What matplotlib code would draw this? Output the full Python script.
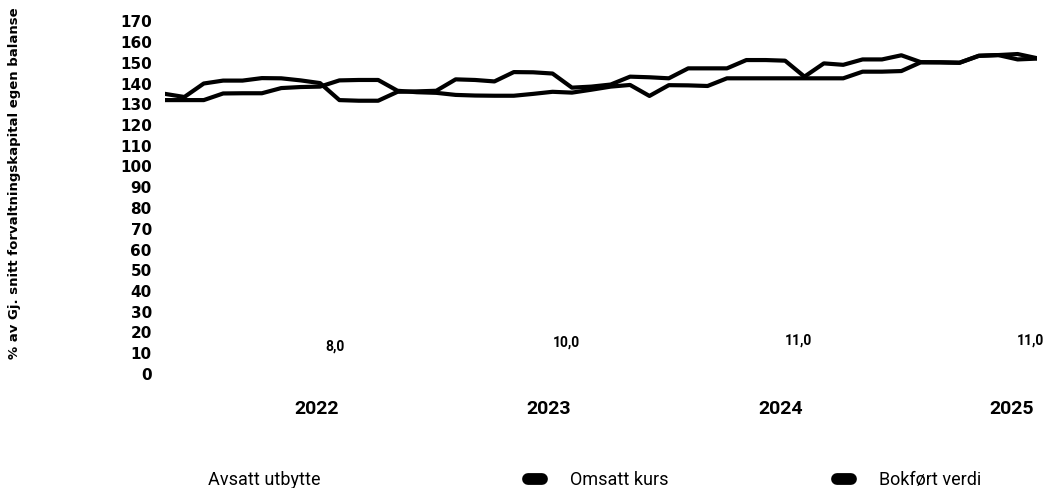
import matplotlib
matplotlib.use("Agg")
import matplotlib.pyplot as plt
import numpy as np
from matplotlib.lines import Line2D
from matplotlib.patches import Patch

# monthly series, %
omsatt_kurs = [135, 133.5, 140, 141.4, 141.4, 142.6, 142.5, 141.5, 140.2, 132,
               131.7, 131.7, 136, 136.2, 136.5, 142, 141.7, 141, 145.5, 145.4,
               144.8, 138, 138.5, 139.5, 143.3, 143, 142.5, 147.3, 147.3, 147.3,
               151.3, 151.3, 151, 143.3, 149.7, 149, 151.6, 151.6, 153.6, 150.3,
               150.2, 150, 153.4, 153.7, 154.2, 152.2]
bokfort_verdi = [132, 132, 132, 135.2, 135.3, 135.3, 137.8, 138.3, 138.5, 141.5,
                 141.7, 141.7, 136.5, 135.8, 135.5, 134.5, 134.2, 134.1, 134.1, 135,
                 136, 135.6, 137, 138.5, 139.3, 134, 139.2, 139.1, 138.8, 142.5,
                 142.5, 142.5, 142.5, 142.5, 142.5, 142.5, 145.7, 145.7, 146, 150.2,
                 150.2, 150, 153.3, 153.7, 151.6, 152]

years = ["2022", "2023", "2024", "2025"]
avsatt_utbytte = [8.0, 10.0, 11.0, 11.0]

W, H = 1044, 488
fig = plt.figure(figsize=(W / 100, H / 100), dpi=100)
rect = [165 / W, (H - 374) / H, (1037 - 165) / W, (374 - 21.25) / H]

narrow = ["Roboto", "DejaVu Sans"]

# lines
ax = fig.add_axes(rect)
x = np.arange(len(omsatt_kurs))
ax.plot(x, omsatt_kurs, color="black", lw=3, label="Omsatt kurs")
ax.plot(x, bokfort_verdi, color="black", lw=3, label="Bokført verdi")
ax.set_xlim(0, len(x) - 1)
ax.set_ylim(0, 170)
ax.set_yticks(range(0, 171, 10))
ax.set_xticks([])
ax.tick_params(axis="y", length=0, pad=9.5)
for lab in ax.get_yticklabels():
    lab.set_fontsize(11)
    lab.set_fontweight("bold")
for s in ax.spines.values():
    s.set_visible(False)

# dividend bars (invisible, only labels shown)
ax2 = fig.add_axes(rect, facecolor="none")
pos = np.arange(len(years))
ax2.bar(pos, avsatt_utbytte, width=0.5, alpha=0, label="Avsatt utbytte")
ax2.set_xlim((165 - 317) / 231.7, (1037 - 317) / 231.7)
ax2.set_ylim(0, 170)
ax2.set_yticks([])
ax2.set_xticks(pos, labels=years)
ax2.tick_params(axis="x", length=0, pad=19)
for lab in ax2.get_xticklabels():
    lab.set_fontsize(14)
    lab.set_fontweight("bold")
    lab.set_family(narrow)
for s in ax2.spines.values():
    s.set_visible(False)
for xi, v in zip(pos, avsatt_utbytte):
    ax2.annotate(f"{v:.1f}".replace(".", ","), (xi, v), xytext=(18, 11),
                 textcoords="offset pixels", ha="center", va="center",
                 fontsize=10, fontweight="bold", family=narrow)

fig.text(15 / W, (H - 183) / H, "% av Gj. snitt forvaltningskapital egen balanse",
         rotation=90, ha="center", va="center", fontsize=9.5, fontweight="bold")

# legend, one entry per box to get the spacing of the original
leg_y = 8 / H
entries = [
    (Patch(alpha=0, label="Avsatt utbytte"), 166),
    (Line2D([0], [0], color="black", lw=8.5, solid_capstyle="round", label="Omsatt kurs"), 528),
    (Line2D([0], [0], color="black", lw=8.5, solid_capstyle="round", label="Bokført verdi"), 837),
]
for h, xp in entries:
    fig.legend(handles=[h], loc="center left", bbox_to_anchor=(xp / W, leg_y),
               frameon=False, borderpad=0, borderaxespad=0, handlelength=0.75,
               handletextpad=1.6, prop={"family": narrow, "size": 13})

fig.savefig("out.png", dpi=100)
